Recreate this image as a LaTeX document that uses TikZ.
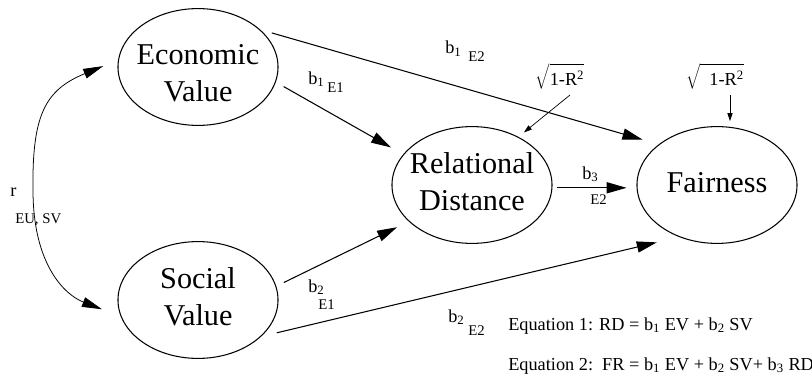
\documentclass[tikz,border=0pt]{standalone}
\usepackage{fontspec}
\usepackage{graphicx}
\setmainfont{Liberation Serif}
\usetikzlibrary{shapes.geometric,arrows.meta}

\newcommand{\vartext}[1]{\scalebox{1.654}{\fontsize{13}{15.9}\selectfont\begin{tabular}{@{}c@{}}#1\end{tabular}}}

\begin{document}
\begin{tikzpicture}[
		x=0.025cm, y=-0.025cm,
		latent/.style={draw, ellipse, line width=0.75pt, minimum width=4cm, minimum height=2.92cm, inner xsep=-0.2cm, inner ysep=0pt},
		arrow/.style={-{Triangle[length=0.5cm, width=0.28cm]}, line width=0.75pt},
		corr/.style={{Triangle[length=0.5cm, width=0.25cm]}-{Triangle[length=0.5cm, width=0.25cm]}, line width=0.55pt},
		err/.style={-{Triangle[length=0.2cm, width=0.13cm]}, line width=0.5pt},
		coef/.style={anchor=base west, inner sep=0pt, font=\fontsize{13}{15}\selectfont},
		subl/.style={anchor=base west, inner sep=0pt, font=\fontsize{10.5}{12}\selectfont},
		resid/.style={inner sep=0pt, font=\fontsize{13}{15}\selectfont},
	]
	\useasboundingbox (0,0) rectangle (812,375);

	% variables
	\node[latent] (ev) at (198,67)  {\raisebox{-6.4pt}[\height][\depth]{\vartext{Economic\\Value}}};
	\node[latent] (sv) at (198,300) {\vartext{Social\\Value}};
	\node[latent] (rd) at (472,185) {\vartext{Relational\\Distance}};
	\node[latent] (fr) at (717,185) {\vartext{Fairness}};

	% residual terms
	\node[resid] (srd) at (560,76) {$\sqrt{\rule{0pt}{12.5pt}\mbox{1-R\textsuperscript{2}}}$};
	\node[resid] (sfr) at (715,76) {$\sqrt{\rule{0pt}{12.5pt}\;\;\mbox{1-R\textsuperscript{2}}}$};
	\coordinate (srdout) at (570,95);
	\coordinate (sfrout) at (730,95);

	% paths
	\draw[arrow, shorten <=0.225cm, shorten >=0.35cm] (ev.-11) -- (rd.156);
	\draw[arrow, shorten <=0.3cm, shorten >=0.425cm] (ev.31) -- (fr.145);
	\draw[arrow, shorten <=0.21cm, shorten >=0.325cm] (sv.10) -- (rd.210);
	\draw[arrow, shorten <=0.4cm, shorten >=0.575cm] (sv.-30) -- (fr.234);
	\draw[arrow, shorten <=0.125cm, shorten >=0.25cm] (rd.-2) -- (fr.182);
	\draw[err, shorten >=0.175cm] (srdout) -- (rd.46);
	\draw[err, shorten >=0.125cm] (sfrout) -- (sfrout |- fr.north);
	\draw[corr, shorten <=0.4cm, shorten >=0.5cm] (ev.175) .. controls (45,90) and (32,115) .. (33,190)
		.. controls (33,265) and (65,295) .. (sv.192);

	% coefficients
	\node[coef] (b1e2) at (445,54)  {b\textsubscript{1}};
	\node[subl] (b1e2s) at (468,62) {E2};
	\node[coef] (b1e1) at (308,84)  {b\textsubscript{1}};
	\node[subl] (b1e1s) at (327,93) {E1};
	\node[coef] (b2e1) at (308,292) {b\textsubscript{2}};
	\node[subl] (b2e1s) at (318,309) {E1};
	\node[coef] (b3e2) at (582,179) {b\textsubscript{3}};
	\node[subl] (b3e2s) at (590,204) {E2};
	\node[coef] (b2e2) at (448,322) {b\textsubscript{2}};
	\node[subl] (b2e2s) at (468,335) {E2};
	\node[coef] (r) at (10,196) {r};
	\node[subl] (rs) at (15,223) {EU, SV};

	% equations
	\node[coef] (eq1) at (508,330) {Equation 1: RD = b\textsubscript{1} EV + b\textsubscript{2} SV};
	\node[coef] (eq2) at (508,370) {Equation 2:\ \ FR = b\textsubscript{1} EV + b\textsubscript{2} SV+ b\textsubscript{3} RD};
\end{tikzpicture}
\end{document}
